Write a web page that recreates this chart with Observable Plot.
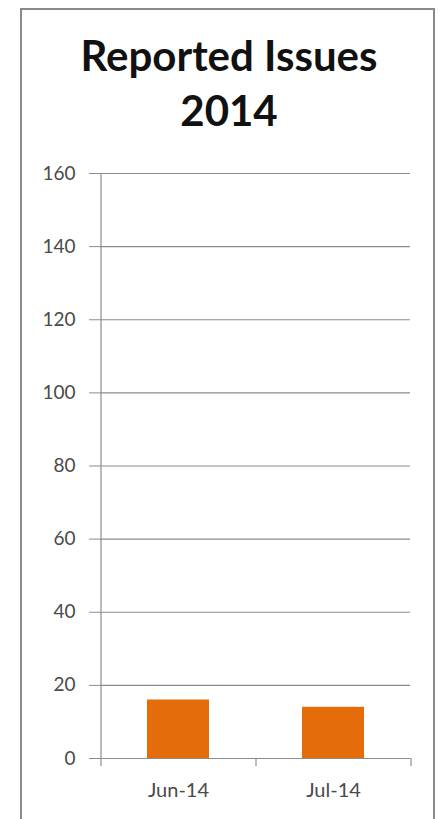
<!DOCTYPE html>
<html>
<head>
<meta charset="utf-8">
<script src="https://cdn.jsdelivr.net/npm/d3@7"></script>
<script src="https://cdn.jsdelivr.net/npm/@observablehq/plot@0.6"></script>
<style>
  html, body { margin: 0; padding: 0; background: #fff; }
  body { width: 440px; height: 819px; position: relative; overflow: hidden; font-family: Lato, "Open Sans", sans-serif; }
  #frame { position: absolute; left: 20px; top: 8px; width: 415px; height: 830px; border: 2px solid #8a8a8a; box-sizing: border-box; }
  #title { position: absolute; left: 0; top: 0; width: 458px; height: 150px; box-sizing: border-box; padding-top: 28px;
           text-align: center; font-weight: 700; font-size: 42px; line-height: 55px; color: #111; }
  #chart { position: absolute; left: 0; top: 150px; }
</style>
</head>
<body>
<div id="frame"></div>
<div id="title">Reported Issues<br>2014</div>
<div id="chart"></div>
<script>
const months = ["Jun-14", "Jul-14"];
const issues = [16, 14];
const yTicks = [0, 20, 40, 60, 80, 100, 120, 140, 160];

const data = months.map((m, i) => ({month: m, value: issues[i]}));
const gridColor = "#8c8c8c";
const textColor = "#4a4a4a";
const halfStep = 77.5;

const chart = Plot.plot({
  width: 440,
  height: 669,
  marginLeft: 100,
  marginRight: 30,
  marginTop: 23,
  marginBottom: 61,
  style: {fontFamily: "Lato, 'Open Sans', sans-serif", background: "transparent"},
  x: {domain: months, paddingInner: 0.6, paddingOuter: 0.3, axis: null},
  y: {domain: [0, 160], axis: null},
  marks: [
    Plot.gridY(yTicks, {stroke: gridColor, strokeOpacity: 1, strokeWidth: 1.2}),
    Plot.axisY(yTicks, {label: null, tickSize: 11, tickPadding: 14, stroke: gridColor, strokeOpacity: 1, fill: textColor, fontSize: 19}),
    Plot.ruleX([months[0]], {x: d => d, dx: -halfStep, y1: 160, y2: 0, insetBottom: -8, stroke: gridColor, strokeWidth: 1.2}),
    Plot.ruleX(months, {x: d => d, dx: halfStep, y1: 0, y2: 0, insetBottom: -8, stroke: gridColor, strokeWidth: 1.2}),
    Plot.barY(data, {x: "month", y: "value", fill: "#e46c0a"}),
    Plot.axisX(months, {label: null, tickSize: 0, tickPadding: 24, fill: textColor, fontSize: 20})
  ]
});
document.getElementById("chart").appendChild(chart);
</script>
</body>
</html>
